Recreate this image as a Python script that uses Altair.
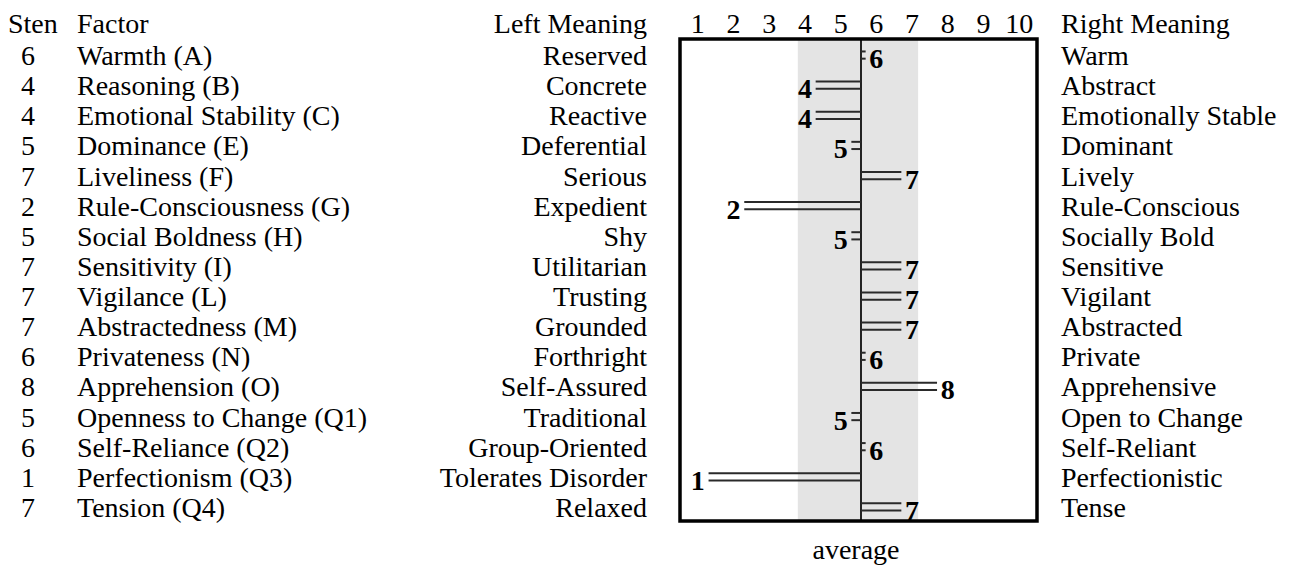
import altair as alt
import pandas as pd

# ---------------- data ----------------
factors = [
    "Warmth (A)", "Reasoning (B)", "Emotional Stability (C)", "Dominance (E)",
    "Liveliness (F)", "Rule-Consciousness (G)", "Social Boldness (H)",
    "Sensitivity (I)", "Vigilance (L)", "Abstractedness (M)", "Privateness (N)",
    "Apprehension (O)", "Openness to Change (Q1)", "Self-Reliance (Q2)",
    "Perfectionism (Q3)", "Tension (Q4)",
]
sten = [6, 4, 4, 5, 7, 2, 5, 7, 7, 7, 6, 8, 5, 6, 1, 7]
left_meaning = [
    "Reserved", "Concrete", "Reactive", "Deferential", "Serious", "Expedient",
    "Shy", "Utilitarian", "Trusting", "Grounded", "Forthright", "Self-Assured",
    "Traditional", "Group-Oriented", "Tolerates Disorder", "Relaxed",
]
right_meaning = [
    "Warm", "Abstract", "Emotionally Stable", "Dominant", "Lively",
    "Rule-Conscious", "Socially Bold", "Sensitive", "Vigilant", "Abstracted",
    "Private", "Apprehensive", "Open to Change", "Self-Reliant",
    "Perfectionistic", "Tense",
]
scale_ticks = [1, 2, 3, 4, 5, 6, 7, 8, 9, 10]
average_line = [5.57]
average_band = [3.8, 7.17]

# ---------------- layout / style ----------------
FONT = "Liberation Serif"
FS = 28
W, H = 357, 482
PLOT_LEFT = 680   # page x of plot area
PLOT_TOP = 39     # page y of plot area
HEAD_BASE = 33    # page y of header baseline
GAP = 0.3         # gap between bar end and its number label
HALF_BAND = H / len(factors) / 2

df = pd.DataFrame({
    "factor": factors,
    "sten": sten,
    "left": left_meaning,
    "right": right_meaning,
})
avg = average_line[0]
df["mid"] = avg
df["end"] = [v + GAP if v < avg else v - GAP for v in sten]

band_df = pd.DataFrame({"lo": [average_band[0]], "hi": [average_band[1]]})
avg_df = pd.DataFrame({"avg": average_line})
ticks_df = pd.DataFrame({"tick": scale_ticks})

x_scale = alt.Scale(domain=[0.5, 10.5], nice=False, zero=False)
y_enc = alt.Y("factor:N", sort=factors,
              scale=alt.Scale(paddingInner=0, paddingOuter=0), axis=None)

band = alt.Chart(band_df).mark_rect(color="#e4e4e4").encode(
    x=alt.X("lo:Q", scale=x_scale, axis=None),
    x2="hi:Q",
)

avg_rule = alt.Chart(avg_df).mark_rule(color="black", strokeWidth=1.7).encode(
    x=alt.X("avg:Q", scale=x_scale, axis=None),
)

tick_labels = alt.Chart(ticks_df).mark_text(
    font=FONT, fontSize=FS, color="black", align="center", baseline="alphabetic",
).encode(
    x=alt.X("tick:Q", scale=x_scale, axis=None),
    y=alt.value(HEAD_BASE - PLOT_TOP),
    text="tick:Q",
)

base = alt.Chart(df)

bar_top = base.mark_rule(color="#2a2a2a", strokeWidth=2).encode(
    x=alt.X("mid:Q", scale=x_scale, axis=None), x2="end:Q", y=y_enc,
    yOffset=alt.value(HALF_BAND - 2.6),
)
bar_bot = base.mark_rule(color="#2a2a2a", strokeWidth=2).encode(
    x=alt.X("mid:Q", scale=x_scale, axis=None), x2="end:Q", y=y_enc,
    yOffset=alt.value(HALF_BAND + 4.6),
)

nums = base.mark_text(
    font=FONT, fontSize=FS, fontWeight="bold", color="black",
    align="center", baseline="alphabetic", dy=14,
).encode(x=alt.X("sten:Q", scale=x_scale, axis=None), y=y_enc, text="sten:Q")

def col_text(field, px, align):
    return base.mark_text(
        font=FONT, fontSize=FS, color="black", align=align,
        baseline="alphabetic", dy=11,
    ).encode(x=alt.value(px - PLOT_LEFT), y=y_enc, text=f"{field}:N")

sten_col = col_text("sten", 28, "center")
factor_col = col_text("factor", 77, "left")
left_col = col_text("left", 647, "right")
right_col = col_text("right", 1061, "left")

def header(label, px, align, py=HEAD_BASE):
    return alt.Chart(pd.DataFrame({"t": [label]})).mark_text(
        font=FONT, fontSize=FS, color="black", align=align,
        baseline="alphabetic",
    ).encode(x=alt.value(px - PLOT_LEFT), y=alt.value(py - PLOT_TOP), text="t:N")

headers = [
    header("Sten", 8, "left"),
    header("Factor", 77, "left"),
    header("Left Meaning", 647, "right"),
    header("Right Meaning", 1061, "left"),
    header("average", 856, "center", py=559),
]

frame = alt.Chart(avg_df).mark_rect(
    filled=False, stroke="black", strokeWidth=3.5,
).encode(
    x=alt.value(0), x2=alt.value(W), y=alt.value(0), y2=alt.value(H),
)

chart = alt.layer(
    band, avg_rule, bar_top, bar_bot, nums, tick_labels,
    sten_col, factor_col, left_col, right_col, *headers, frame,
).properties(
    width=W, height=H,
    autosize=alt.AutoSizeParams(type="none"),
    padding={"left": PLOT_LEFT - 8, "top": PLOT_TOP - 8,
             "right": 1298 - (PLOT_LEFT + W), "bottom": 565 - (PLOT_TOP + H)},
).configure(
    font=FONT,
).configure_view(
    stroke="transparent", strokeWidth=0,
)

chart.save("out.html", embed_options={"renderer": "svg", "actions": False})
